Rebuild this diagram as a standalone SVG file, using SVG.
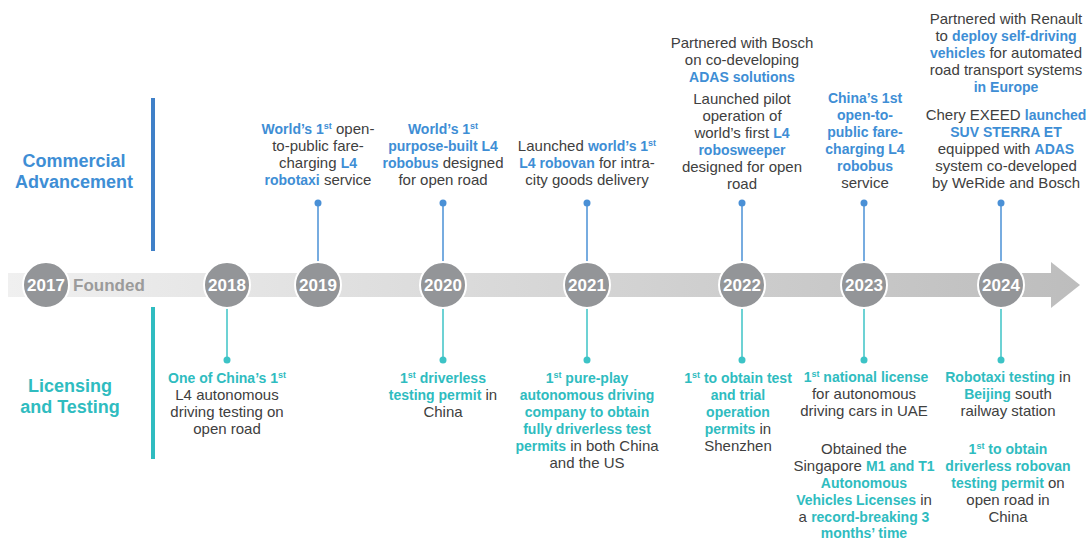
<svg xmlns="http://www.w3.org/2000/svg" width="1088" height="540" viewBox="0 0 1088 540">
<defs>
<linearGradient id="band" gradientUnits="userSpaceOnUse" x1="8" y1="0" x2="1080" y2="0">
<stop offset="0" stop-color="#f0f0f0"/>
<stop offset="1" stop-color="#bdbdbd"/>
</linearGradient>
<style>
.t{font-family:"Liberation Sans",Arial,sans-serif;font-size:15px;fill:#404040;text-anchor:middle}
.b{font-weight:bold;font-size:14px;fill:#3e8ed5}
.g{font-weight:bold;font-size:14px;fill:#2fbcc0}
.s{font-size:9px}
.h{font-family:"Liberation Sans",Arial,sans-serif;font-size:18px;font-weight:bold;text-anchor:middle}
.y{font-family:"Liberation Sans",Arial,sans-serif;font-size:17px;font-weight:bold;fill:#fff;text-anchor:middle}
.yc{fill:#939598;stroke:#fff;stroke-width:2}
.cb{stroke:#4a90d6;stroke-width:1.5;fill:none}
.ct{stroke:#3cc3c6;stroke-width:1.5;fill:none}
.db{fill:#4a90d6}
.dt{fill:#3cc3c6}
</style>
</defs>
<rect width="1088" height="540" fill="#fff"/>

<g id="headings">
<line x1="153" y1="98" x2="153" y2="251" stroke="#3f80c8" stroke-width="4"/>
<line x1="153" y1="307" x2="153" y2="459" stroke="#2fbcc0" stroke-width="4"/>
<text class="h" x="74" y="167" fill="#3e8ed5">Commercial</text>
<text class="h" x="74" y="188" fill="#3e8ed5">Advancement</text>
<text class="h" x="70" y="392" fill="#2fbcc0">Licensing</text>
<text class="h" x="70" y="413" fill="#2fbcc0">and Testing</text>
</g>

<g id="timeline">
<rect x="8" y="273" width="1044" height="24" fill="url(#band)"/>
<polygon points="1051,262 1080,285 1051,308" fill="url(#band)"/>
</g>

<g id="connectors">
<line class="cb" x1="318" y1="203" x2="318" y2="262"/><circle class="db" cx="318" cy="203" r="3.5"/>
<line class="cb" x1="443" y1="203" x2="443" y2="262"/><circle class="db" cx="443" cy="203" r="3.5"/>
<line class="cb" x1="587" y1="203" x2="587" y2="262"/><circle class="db" cx="587" cy="203" r="3.5"/>
<line class="cb" x1="742" y1="203" x2="742" y2="262"/><circle class="db" cx="742" cy="203" r="3.5"/>
<line class="cb" x1="864" y1="203" x2="864" y2="262"/><circle class="db" cx="864" cy="203" r="3.5"/>
<line class="cb" x1="1001" y1="203" x2="1001" y2="262"/><circle class="db" cx="1001" cy="203" r="3.5"/>
<line class="ct" x1="227" y1="308" x2="227" y2="360"/><circle class="dt" cx="227" cy="360" r="3.5"/>
<line class="ct" x1="443" y1="308" x2="443" y2="360"/><circle class="dt" cx="443" cy="360" r="3.5"/>
<line class="ct" x1="587" y1="308" x2="587" y2="360"/><circle class="dt" cx="587" cy="360" r="3.5"/>
<line class="ct" x1="742" y1="308" x2="742" y2="360"/><circle class="dt" cx="742" cy="360" r="3.5"/>
<line class="ct" x1="864" y1="308" x2="864" y2="360"/><circle class="dt" cx="864" cy="360" r="3.5"/>
<line class="ct" x1="1001" y1="308" x2="1001" y2="360"/><circle class="dt" cx="1001" cy="360" r="3.5"/>
</g>

<g id="y2017"><circle class="yc" cx="46" cy="285" r="23"/><text class="y" x="46" y="291">2017</text>
<text x="73" y="291" font-family="Liberation Sans,Arial,sans-serif" font-size="17" font-weight="bold" fill="#9b9b9b">Founded</text></g>
<g id="y2018"><circle class="yc" cx="227" cy="285" r="23"/><text class="y" x="227" y="291">2018</text></g>
<g id="y2019"><circle class="yc" cx="318" cy="285" r="23"/><text class="y" x="318" y="291">2019</text></g>
<g id="y2020"><circle class="yc" cx="443" cy="285" r="23"/><text class="y" x="443" y="291">2020</text></g>
<g id="y2021"><circle class="yc" cx="587" cy="285" r="23"/><text class="y" x="587" y="291">2021</text></g>
<g id="y2022"><circle class="yc" cx="742" cy="285" r="23"/><text class="y" x="742" y="291">2022</text></g>
<g id="y2023"><circle class="yc" cx="864" cy="285" r="23"/><text class="y" x="864" y="291">2023</text></g>
<g id="y2024"><circle class="yc" cx="1001" cy="285" r="23"/><text class="y" x="1001" y="291">2024</text></g>

<g id="c2019">
<text class="t" x="318" y="134"><tspan class="b">World’s 1</tspan><tspan class="b s" dy="-5">st</tspan><tspan dy="5"> open-</tspan></text>
<text class="t" x="318" y="151">to-public fare-</text>
<text class="t" x="318" y="168">charging <tspan class="b">L4</tspan></text>
<text class="t" x="318" y="185"><tspan class="b">robotaxi</tspan> service</text>
</g>
<g id="c2020">
<text class="t" x="443" y="134"><tspan class="b">World’s 1</tspan><tspan class="b s" dy="-5">st</tspan></text>
<text class="t" x="443" y="151"><tspan class="b">purpose-built L4</tspan></text>
<text class="t" x="443" y="168"><tspan class="b">robobus</tspan> designed</text>
<text class="t" x="443" y="185">for open road</text>
</g>
<g id="c2021">
<text class="t" x="587" y="151">Launched <tspan class="b">world’s 1</tspan><tspan class="b s" dy="-5">st</tspan></text>
<text class="t" x="587" y="168"><tspan class="b">L4 robovan</tspan> for intra-</text>
<text class="t" x="587" y="185">city goods delivery</text>
</g>
<g id="c2022">
<text class="t" x="742" y="48">Partnered with Bosch</text>
<text class="t" x="742" y="65">on co-developing</text>
<text class="t" x="742" y="82"><tspan class="b">ADAS solutions</tspan></text>
<text class="t" x="742" y="104">Launched pilot</text>
<text class="t" x="742" y="121">operation of</text>
<text class="t" x="742" y="138">world’s first <tspan class="b">L4</tspan></text>
<text class="t" x="742" y="155"><tspan class="b">robosweeper</tspan></text>
<text class="t" x="742" y="172">designed for open</text>
<text class="t" x="742" y="189">road</text>
</g>
<g id="c2023">
<text class="t" x="865" y="103"><tspan class="b">China’s 1st</tspan></text>
<text class="t" x="865" y="120"><tspan class="b">open-to-</tspan></text>
<text class="t" x="865" y="137"><tspan class="b">public fare-</tspan></text>
<text class="t" x="865" y="154"><tspan class="b">charging L4</tspan></text>
<text class="t" x="865" y="171"><tspan class="b">robobus</tspan></text>
<text class="t" x="865" y="188">service</text>
</g>
<g id="c2024">
<text class="t" x="1006" y="24">Partnered with Renault</text>
<text class="t" x="1006" y="41">to <tspan class="b">deploy self-driving</tspan></text>
<text class="t" x="1006" y="58"><tspan class="b">vehicles</tspan> for automated</text>
<text class="t" x="1006" y="75">road transport systems</text>
<text class="t" x="1006" y="92"><tspan class="b">in Europe</tspan></text>
<text class="t" x="1006" y="120">Chery EXEED <tspan class="b">launched</tspan></text>
<text class="t" x="1006" y="137"><tspan class="b">SUV STERRA ET</tspan></text>
<text class="t" x="1006" y="154">equipped with <tspan class="b">ADAS</tspan></text>
<text class="t" x="1006" y="171">system co-developed</text>
<text class="t" x="1006" y="188">by WeRide and Bosch</text>
</g>

<g id="l2018">
<text class="t" x="227" y="383"><tspan class="g">One of China’s 1</tspan><tspan class="g s" dy="-5">st</tspan></text>
<text class="t" x="227" y="400">L4 autonomous</text>
<text class="t" x="227" y="417">driving testing on</text>
<text class="t" x="227" y="434">open road</text>
</g>
<g id="l2020">
<text class="t" x="443" y="383"><tspan class="g">1</tspan><tspan class="g s" dy="-5">st</tspan><tspan class="g" dy="5"> driverless</tspan></text>
<text class="t" x="443" y="400"><tspan class="g">testing permit</tspan> in</text>
<text class="t" x="443" y="417">China</text>
</g>
<g id="l2021">
<text class="t" x="587" y="383"><tspan class="g">1</tspan><tspan class="g s" dy="-5">st</tspan><tspan class="g" dy="5"> pure-play</tspan></text>
<text class="t" x="587" y="400"><tspan class="g">autonomous driving</tspan></text>
<text class="t" x="587" y="417"><tspan class="g">company to obtain</tspan></text>
<text class="t" x="587" y="434"><tspan class="g">fully driverless test</tspan></text>
<text class="t" x="587" y="451"><tspan class="g">permits</tspan> in both China</text>
<text class="t" x="587" y="468">and the US</text>
</g>
<g id="l2022">
<text class="t" x="738" y="383"><tspan class="g">1</tspan><tspan class="g s" dy="-5">st</tspan><tspan class="g" dy="5"> to obtain test</tspan></text>
<text class="t" x="738" y="400"><tspan class="g">and trial</tspan></text>
<text class="t" x="738" y="417"><tspan class="g">operation</tspan></text>
<text class="t" x="738" y="434"><tspan class="g">permits</tspan> in</text>
<text class="t" x="738" y="451">Shenzhen</text>
</g>
<g id="l2023">
<text class="t" x="866" y="382"><tspan class="g">1</tspan><tspan class="g s" dy="-5">st</tspan><tspan class="g" dy="5"> national license</tspan></text>
<text class="t" x="864" y="399">for autonomous</text>
<text class="t" x="864" y="416">driving cars in UAE</text>
<text class="t" x="864" y="454">Obtained the</text>
<text class="t" x="864" y="471">Singapore <tspan class="g">M1 and T1</tspan></text>
<text class="t" x="864" y="488"><tspan class="g">Autonomous</tspan></text>
<text class="t" x="864" y="505"><tspan class="g">Vehicles Licenses</tspan> in</text>
<text class="t" x="864" y="522">a <tspan class="g">record-breaking 3</tspan></text>
<text class="t" x="864" y="538"><tspan class="g">months’ time</tspan></text>
</g>
<g id="l2024">
<text class="t" x="1008" y="382"><tspan class="g">Robotaxi testing</tspan> in</text>
<text class="t" x="1008" y="399"><tspan class="g">Beijing</tspan> south</text>
<text class="t" x="1008" y="416">railway station</text>
<text class="t" x="1008" y="454"><tspan class="g">1</tspan><tspan class="g s" dy="-5">st</tspan><tspan class="g" dy="5"> to obtain</tspan></text>
<text class="t" x="1008" y="471"><tspan class="g">driverless robovan</tspan></text>
<text class="t" x="1008" y="488"><tspan class="g">testing permit</tspan> on</text>
<text class="t" x="1008" y="505">open road in</text>
<text class="t" x="1008" y="522">China</text>
</g>
</svg>
